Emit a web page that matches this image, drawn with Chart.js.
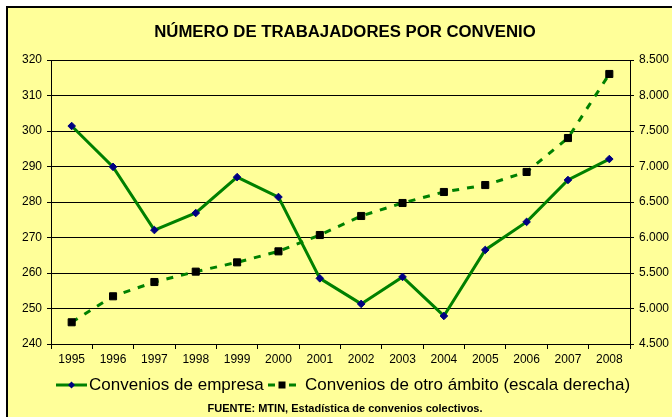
<!DOCTYPE html>
<html>
<head>
<meta charset="utf-8">
<script src="https://cdn.jsdelivr.net/npm/chart.js@4/dist/chart.umd.min.js"></script>
<style>
html,body{margin:0;padding:0;background:#fff;}
#c{display:block;}
</style>
</head>
<body>
<canvas id="c" width="672" height="417"></canvas>
<script>
const years = ['1995','1996','1997','1998','1999','2000','2001','2002','2003','2004','2005','2006','2007','2008'];
const empresa = [301.4, 289.9, 272.1, 276.9, 287.0, 281.4, 258.5, 251.3, 258.9, 247.9, 266.5, 274.4, 286.2, 292.1];
const otroAmbito = [4806, 5172, 5373, 5519, 5650, 5805, 6035, 6303, 6486, 6641, 6739, 6923, 7401, 8303];
const titleText = 'NÚMERO DE TRABAJADORES POR CONVENIO';
const legendLabels = ['Convenios de empresa', 'Convenios de otro ámbito (escala derecha)'];
const footerText = 'FUENTE: MTIN, Estadística de convenios colectivos.';

const FONT = "'Liberation Sans', Arial, sans-serif";
const GREEN = '#008000';

function fmtMiles(v){
  return String(v).replace(/\B(?=(\d{3})+(?!\d))/g, '.');
}

const decor = {
  id: 'decor',
  beforeDraw(chart){
    const ctx = chart.ctx;
    ctx.save();
    ctx.fillStyle = '#fff';
    ctx.fillRect(0,0,chart.width,chart.height);
    ctx.fillStyle = '#000';
    ctx.fillRect(6,6,chart.width,chart.height);
    ctx.fillStyle = '#FFFF99';
    ctx.fillRect(8,8,chart.width,chart.height);
    ctx.restore();
  },
  afterDraw(chart){
    const ctx = chart.ctx;
    ctx.save();
    ctx.fillStyle = '#000';
    ctx.textAlign = 'center';
    ctx.textBaseline = 'middle';
    ctx.font = "bold 16.75px " + FONT;
    ctx.fillText(titleText, 345, 32);
    // legend
    const ly = 385;
    ctx.strokeStyle = GREEN;
    ctx.lineWidth = 3;
    ctx.beginPath(); ctx.moveTo(56, ly); ctx.lineTo(87, ly); ctx.stroke();
    ctx.fillStyle = '#000080';
    ctx.beginPath();
    ctx.moveTo(71.5, ly-3.5); ctx.lineTo(75, ly); ctx.lineTo(71.5, ly+3.5); ctx.lineTo(68, ly); ctx.closePath(); ctx.fill();
    ctx.beginPath(); ctx.moveTo(268, ly); ctx.lineTo(275, ly); ctx.moveTo(289, ly); ctx.lineTo(296, ly); ctx.stroke();
    ctx.fillStyle = '#000';
    ctx.fillRect(278.5, ly-3.5, 7, 7);
    ctx.textAlign = 'left';
    ctx.font = "17px " + FONT;
    ctx.fillText(legendLabels[0], 89, ly);
    ctx.fillText(legendLabels[1], 305, ly);
    // footer
    ctx.textAlign = 'center';
    ctx.font = "bold 11px " + FONT;
    ctx.fillText(footerText, 345, 409);
    ctx.restore();
  }
};

new Chart(document.getElementById('c'), {
  type: 'line',
  data: {
    labels: years,
    datasets: [
      {
        label: legendLabels[0],
        data: empresa,
        yAxisID: 'y',
        borderColor: GREEN,
        borderWidth: 3,
        pointStyle: 'rectRot',
        pointRadius: 3.8,
        pointBackgroundColor: '#000080',
        pointBorderColor: '#000080',
        pointBorderWidth: 1,
        tension: 0,
        order: 2
      },
      {
        label: legendLabels[1],
        data: otroAmbito,
        yAxisID: 'y2',
        borderColor: GREEN,
        borderWidth: 3,
        borderDash: [7, 8],
        pointStyle: 'rect',
        pointRadius: 5,
        pointBackgroundColor: '#000',
        pointBorderColor: '#000',
        pointBorderWidth: 1,
        tension: 0,
        order: 1
      }
    ]
  },
  options: {
    responsive: false,
    animation: false,
    layout: { padding: { left: 0, right: 0, top: 60, bottom: 0 } },
    plugins: {
      legend: { display: false },
      title: { display: false },
      tooltip: { enabled: false }
    },
    scales: {
      x: {
        offset: true,
        grid: { offset: true, drawOnChartArea: false, drawTicks: true, tickLength: 5, color: '#000' },
        border: { display: true, color: '#000', width: 1 },
        ticks: { color: '#000', font: { family: FONT, size: 12 }, padding: 3, maxRotation: 0, autoSkip: false },
        afterFit(s){ s.height = 73; }
      },
      y: {
        position: 'left',
        min: 240, max: 320,
        grid: { color: '#000', lineWidth: 1, tickLength: 4 },
        border: { display: true, color: '#000', width: 1 },
        ticks: { stepSize: 10, color: '#000', font: { family: FONT, size: 12 }, padding: 5 },
        afterFit(s){ s.width = 51; }
      },
      y2: {
        position: 'right',
        min: 4500, max: 8500,
        grid: { drawOnChartArea: false, color: '#000', tickLength: 4 },
        border: { display: true, color: '#000', width: 1 },
        ticks: { stepSize: 500, color: '#000', font: { family: FONT, size: 12 }, padding: 5,
          callback: (v) => fmtMiles(v) },
        afterFit(s){ s.width = 42; }
      }
    }
  },
  plugins: [decor]
});
</script>
</body>
</html>
